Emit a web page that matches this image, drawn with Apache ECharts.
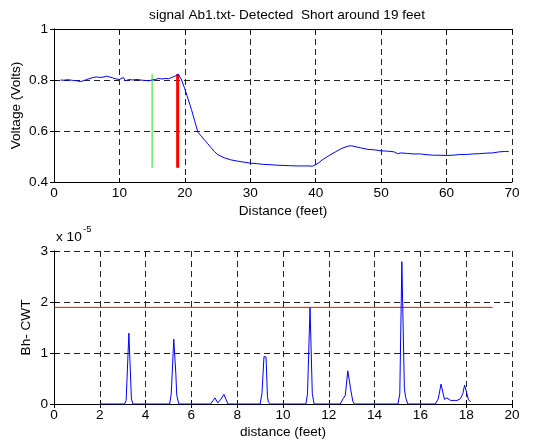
<!DOCTYPE html>
<html><head><meta charset="utf-8">
<script src="https://cdn.jsdelivr.net/npm/echarts@6/dist/echarts.min.js"></script>
<style>html,body{margin:0;padding:0;background:#fff}#c{width:553px;height:446px}</style>
</head><body><div id="c"></div>
<script>
const titleText = 'signal Ab1.txt- Detected  Short around 19 feet';
const topXTicks = [0,10,20,30,40,50,60,70];
const topYTicks = [0.4,0.6,0.8,1];
const botXTicks = [0,2,4,6,8,10,12,14,16,18,20];
const botYTicks = [0,1,2,3];

const voltX = [1,1.5,2,2.5,3,3.5,4,4.5,5,5.5,6,6.5,7,7.5,8,8.5,9,9.5,10,10.3,10.6,10.9,11.2,11.5,12,12.5,13,13.5,14,14.5,15,15.5,16,16.5,17,17.5,18,18.5,19,19.5,20,20.5,21,21.5,22,22.5,23,23.5,24,24.5,25,25.3,26,27,28,29,30,31,32,33,34,35,36,37,38,39,39.5,40,40.5,41,42,43,44,45,45.5,46,47,48,49,50,51,52,52.5,53,54,55,56,57,58,59,60,61,62,63,64,65,66,67,68,69,69.5];
const voltY = [0.80,0.799,0.801,0.80,0.798,0.797,0.794,0.797,0.802,0.806,0.81,0.812,0.81,0.811,0.815,0.812,0.808,0.804,0.802,0.808,0.81,0.797,0.801,0.802,0.80,0.802,0.801,0.799,0.798,0.797,0.80,0.802,0.806,0.804,0.806,0.805,0.81,0.815,0.823,0.80,0.765,0.725,0.685,0.64,0.595,0.58,0.565,0.55,0.535,0.52,0.508,0.503,0.495,0.487,0.482,0.478,0.474,0.472,0.469,0.468,0.466,0.465,0.464,0.463,0.463,0.463,0.462,0.468,0.476,0.487,0.503,0.518,0.532,0.541,0.542,0.539,0.533,0.528,0.526,0.522,0.521,0.518,0.511,0.514,0.512,0.510,0.510,0.507,0.505,0.505,0.504,0.505,0.508,0.508,0.510,0.511,0.513,0.514,0.518,0.520,0.519];
const greenMarkX = 15, greenMarkY = [0.456, 0.823];
const redMarkX = 18.9, redMarkY = [0.456, 0.823];

const cwtX = [2,3.08,3.15,3.27,3.38,3.45,5.05,5.12,5.23,5.32,5.36,5.45,6.84,6.95,7.03,7.15,7.3,7.42,7.5,7.6,9.0,9.08,9.17,9.26,9.32,9.36,9.45,11.0,11.07,11.18,11.28,11.36,12.5,12.62,12.72,12.83,12.95,13.05,13.12,15.02,15.1,15.19,15.3,15.36,15.45,16.65,16.78,16.9,17.05,17.15,17.22,17.32,17.4,17.5,17.6,17.74,17.85,17.93,18.02,18.1,18.2];
const cwtY = [0,0,0.07,1.39,0.1,0,0,0.2,1.27,0.6,0.17,0,0,0.07,0.12,0.02,0.1,0.19,0.1,0,0,0.2,0.93,0.92,0.15,0.04,0,0,0.2,1.89,0.2,0,0,0.1,0.17,0.65,0.3,0.05,0,0,0.2,2.79,0.3,0.12,0,0,0.1,0.39,0.09,0.12,0.1,0.07,0.08,0.07,0.07,0.1,0.2,0.37,0.22,0.08,0.045];
const thresholdX = [0, 19.15];
const thresholdY = 1.895;

const FONT = 'Liberation Sans, Arial, sans-serif';
const FS = 13.6;
const zip = (a,b) => a.map((v,i)=>[v,b[i]]);
const gridLine = {show:true, lineStyle:{color:'#222', type:[6,4], width:1}};
const tickStyle = {show:true, inside:true, length:4, lineStyle:{color:'#000'}};
const lbl = {color:'#000', fontFamily:FONT, fontSize:FS};
const nameStyle = {color:'#000', fontFamily:FONT, fontSize:FS};

function xAx(grid, ticks, name, gap){
  return [{
    type:'value', gridIndex:grid, min:ticks[0], max:ticks[ticks.length-1], interval:ticks[1]-ticks[0],
    name:name, nameLocation:'middle', nameGap:gap, nameMoveOverlap:false, nameTextStyle:nameStyle,
    axisLine:{show:true, lineStyle:{color:'#000'}}, axisTick:tickStyle,
    axisLabel:Object.assign({margin:4}, lbl), splitLine:gridLine
  },{
    type:'value', gridIndex:grid, position:'top', min:ticks[0], max:ticks[ticks.length-1], interval:ticks[1]-ticks[0],
    axisLine:{show:true, lineStyle:{color:'#000'}}, axisTick:tickStyle, axisLabel:{show:false}, splitLine:{show:false}
  }];
}
function yAx(grid, ticks, name, gap, fmt){
  return [{
    type:'value', gridIndex:grid, min:ticks[0], max:ticks[ticks.length-1], interval:+(ticks[1]-ticks[0]).toFixed(2),
    name:name, nameLocation:'middle', nameGap:gap, nameMoveOverlap:false, nameTextStyle:nameStyle,
    axisLine:{show:true, lineStyle:{color:'#000'}}, axisTick:tickStyle,
    axisLabel:Object.assign({margin:6, formatter:fmt}, lbl), splitLine:gridLine
  },{
    type:'value', gridIndex:grid, position:'right', min:ticks[0], max:ticks[ticks.length-1], interval:+(ticks[1]-ticks[0]).toFixed(2),
    axisLine:{show:true, lineStyle:{color:'#000'}}, axisTick:tickStyle, axisLabel:{show:false}, splitLine:{show:false}
  }];
}

const chart = echarts.init(document.getElementById('c'), null, {renderer:'canvas'});
chart.setOption({
  animation:false,
  backgroundColor:'#fff',
  title:{text:titleText, left:282, textAlign:'center', top:3, textStyle:{fontFamily:FONT, fontSize:FS, fontWeight:'normal', color:'#000'}},
  grid:[
    {left:54, top:29, width:458, height:153, containLabel:false, outerBoundsMode:'none'},
    {left:54, top:251, width:458, height:153, containLabel:false, outerBoundsMode:'none'}
  ],
  xAxis:[...xAx(0, topXTicks, 'Distance (feet)', 22), ...xAx(1, botXTicks, 'distance (feet)', 21)],
  yAxis:[...yAx(0, topYTicks, 'Voltage (Volts)', 31, v => v===1 ? '1' : v.toFixed(1)), ...yAx(1, botYTicks, 'Bh- CWT', 21, v => String(v))],
  graphic:[
    {type:'text', left:56, top:230, style:{text:'x 10', fontFamily:FONT, fontSize:FS, fill:'#000'}},
    {type:'text', left:83, top:224, style:{text:'-5', fontFamily:FONT, fontSize:9.5, fill:'#000'}}
  ],
  series:[
    {type:'line', xAxisIndex:0, yAxisIndex:0, data:zip(voltX, voltY), showSymbol:false, lineStyle:{color:'#0000ff', width:1}, z:3},
    {type:'line', xAxisIndex:0, yAxisIndex:0, data:greenMarkY.map(v=>[greenMarkX,v]), showSymbol:false, lineStyle:{color:'#66ee66', width:1.5}, z:2},
    {type:'line', xAxisIndex:0, yAxisIndex:0, data:redMarkY.map(v=>[redMarkX,v]), showSymbol:false, lineStyle:{color:'#ff0000', width:3}, z:2},
    {type:'line', xAxisIndex:2, yAxisIndex:2, data:zip(cwtX, cwtY), showSymbol:false, lineStyle:{color:'#0000ff', width:1}, z:3},
    {type:'line', xAxisIndex:2, yAxisIndex:2, data:thresholdX.map(x=>[x,thresholdY]), showSymbol:false, lineStyle:{color:'#ff0000', width:1}, z:2}
  ]
});
</script></body></html>
